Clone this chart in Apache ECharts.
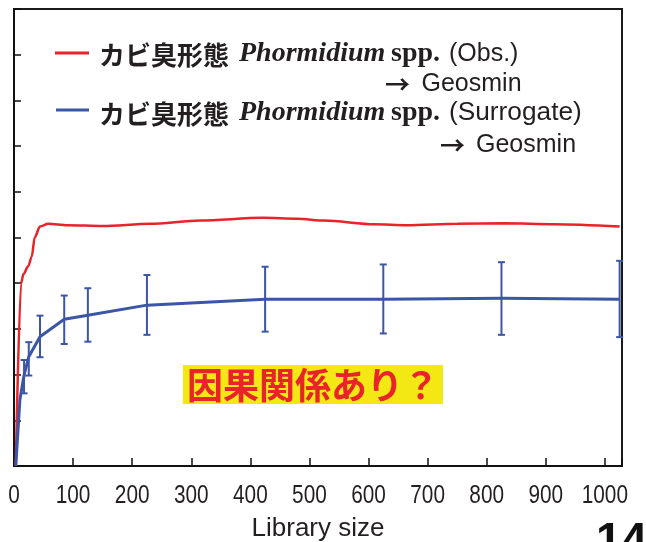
<!DOCTYPE html>
<html>
<head>
<meta charset="utf-8">
<script src="https://cdn.jsdelivr.net/npm/echarts@6/dist/echarts.min.js"></script>
<style>
  html, body { margin: 0; padding: 0; background: #ffffff; }
  #chart { width: 646px; height: 542px; }
</style>
</head>
<body>
<div id="chart"></div>
<script>
// Library-size axis ticks
const xTickValues = [0, 100, 200, 300, 400, 500, 600, 700, 800, 900, 1000];

// Observed Phormidium -> Geosmin cross-map skill (smooth curve)
const obsLibrary = [3, 12, 16, 24, 30, 35, 44, 58, 90, 150, 230, 315, 420, 480, 525, 610, 665, 750, 830, 915, 1025];
const obsSkill   = [0, 0.40, 0.42, 0.437, 0.458, 0.50, 0.524, 0.530, 0.527, 0.525, 0.530, 0.537, 0.543, 0.541, 0.537, 0.529, 0.527, 0.530, 0.531, 0.529, 0.524];

// Surrogate Phormidium -> Geosmin: mean skill and spread
const surLibrary = [3, 10, 17, 25, 44, 85, 125, 225, 425, 625, 825, 1025];
const surMean    = [0, 0.145, 0.199, 0.239, 0.283, 0.321, 0.330, 0.352, 0.365, 0.365, 0.367, 0.365];
const surLow     = [null, null, 0.159, 0.198, 0.238, 0.267, 0.272, 0.287, 0.294, 0.290, 0.287, 0.282];
const surHigh    = [null, null, 0.232, 0.271, 0.329, 0.373, 0.389, 0.418, 0.436, 0.441, 0.446, 0.449];

const RED = '#e8232a';
const BLUE = '#3c56a6';
const INK = '#231f20';

const obsData = obsLibrary.map((x, i) => [x, obsSkill[i]]);
const surData = surLibrary.map((x, i) => [x, surMean[i]]);
const barData = [];
surLibrary.forEach((x, i) => {
  if (surLow[i] != null) barData.push([x, surLow[i], surHigh[i]]);
});

const chart = echarts.init(document.getElementById('chart'), null, { renderer: 'canvas' });

const sansCJK = '"Noto Sans CJK JP", sans-serif';
const serif = '"Liberation Serif", "Times New Roman", serif';
const sans = '"Liberation Sans", Arial, sans-serif';

function txt(x, y, text, font, extra) {
  const el = {
    type: 'text', x: x, y: y, z: 100,
    style: { text: text, font: font, fill: INK, align: 'left', verticalAlign: 'middle' }
  };
  if (extra) Object.assign(el, extra);
  return el;
}

chart.setOption({
  animation: false,
  backgroundColor: '#ffffff',
  grid: {
    left: 14, top: 9, right: 24, bottom: 76,
    containLabel: false, outerBoundsMode: 'none',
    show: true, borderColor: '#1a1a1a', borderWidth: 2, backgroundColor: 'transparent'
  },
  xAxis: {
    type: 'value', min: 0, max: 1029, interval: 100,
    name: 'Library size', nameLocation: 'middle', nameGap: 50,
    nameTextStyle: { fontFamily: sans, fontSize: 26, color: INK },
    axisLine: { show: true, lineStyle: { color: '#111', width: 1.5 } },
    axisTick: { show: true, inside: true, length: 8, lineStyle: { color: '#111', width: 1.5 } },
    // tick labels are drawn below in a condensed style at the axis positions
    axisLabel: { show: false },
    splitLine: { show: false }
  },
  yAxis: {
    type: 'value', min: 0, max: 1, interval: 0.1,
    axisLine: { show: true, lineStyle: { color: '#111', width: 1.5 } },
    axisTick: { show: true, inside: true, length: 7, lineStyle: { color: '#111', width: 1.5 } },
    axisLabel: { show: false },
    splitLine: { show: false }
  },
  series: [
    {
      name: 'obs', type: 'line', data: obsData, smooth: 0.3, smoothMonotone: 'x',
      showSymbol: false, symbol: 'none',
      lineStyle: { color: RED, width: 2.5 }, z: 3
    },
    {
      name: 'surrogate', type: 'line', data: surData, smooth: false,
      showSymbol: false, symbol: 'none',
      lineStyle: { color: BLUE, width: 3, join: 'round' }, z: 4
    },
    {
      name: 'surrogate-range', type: 'custom', data: barData, z: 5,
      renderItem: function (params, api) {
        const x = api.value(0);
        const lo = api.coord([x, api.value(1)]);
        const hi = api.coord([x, api.value(2)]);
        const cap = 3.5;
        const st = { stroke: BLUE, lineWidth: 2, fill: null };
        return {
          type: 'group',
          children: [
            { type: 'line', shape: { x1: lo[0], y1: lo[1], x2: hi[0], y2: hi[1] }, style: st },
            { type: 'line', shape: { x1: hi[0] - cap, y1: hi[1], x2: hi[0] + cap, y2: hi[1] }, style: st },
            { type: 'line', shape: { x1: lo[0] - cap, y1: lo[1], x2: lo[0] + cap, y2: lo[1] }, style: st }
          ]
        };
      }
    }
  ]
});

// condensed tick labels placed through the x axis scale
const tickLabels = xTickValues.map(v => {
  const px = chart.convertToPixel({ xAxisIndex: 0 }, v);
  return {
    type: 'text', x: px, y: 496, z: 100, scaleX: 0.8,
    style: { text: String(v), font: '26px ' + sans, fill: INK, align: 'center', verticalAlign: 'middle' }
  };
});

chart.setOption({
  graphic: tickLabels.concat([
    // legend: observed
    { type: 'line', z: 100, shape: { x1: 55, y1: 53, x2: 89, y2: 53 }, style: { stroke: RED, lineWidth: 3 } },
    txt(99, 55, 'カビ臭形態', 'bold 26px ' + sansCJK),
    txt(239, 54, 'Phormidium', 'italic bold 28px ' + serif),
    txt(391, 54, 'spp.', 'bold 28px ' + serif),
    txt(449, 54.5, '(Obs.)', '25px ' + sans),
    txt(385, 84, '→', 'bold 25px ' + sansCJK),
    txt(421.5, 84.5, 'Geosmin', '25px ' + sans),
    // legend: surrogate
    { type: 'line', z: 100, shape: { x1: 56, y1: 110, x2: 89, y2: 110 }, style: { stroke: BLUE, lineWidth: 3 } },
    txt(99, 114, 'カビ臭形態', 'bold 26px ' + sansCJK),
    txt(239, 113, 'Phormidium', 'italic bold 28px ' + serif),
    txt(391, 113, 'spp.', 'bold 28px ' + serif),
    txt(449, 113.5, '(Surrogate)', '25px ' + sans, { scaleX: 1.05 }),
    txt(440, 145, '→', 'bold 25px ' + sansCJK),
    txt(476, 145.5, 'Geosmin', '25px ' + sans),
    // highlighted question
    { type: 'rect', z: 90, shape: { x: 183, y: 365, width: 260, height: 39 }, style: { fill: '#f4e814' } },
    {
      type: 'text', z: 100, x: 313, y: 385,
      style: { text: '因果関係あり？', font: 'bold 36px ' + sansCJK, fill: RED, align: 'center', verticalAlign: 'middle' }
    },
    // page number
    {
      type: 'text', z: 100, x: 596, y: 542,
      style: { text: '14', font: 'bold 46px ' + sans, fill: '#111', align: 'left', verticalAlign: 'middle' }
    }
  ])
});
</script>
</body>
</html>
